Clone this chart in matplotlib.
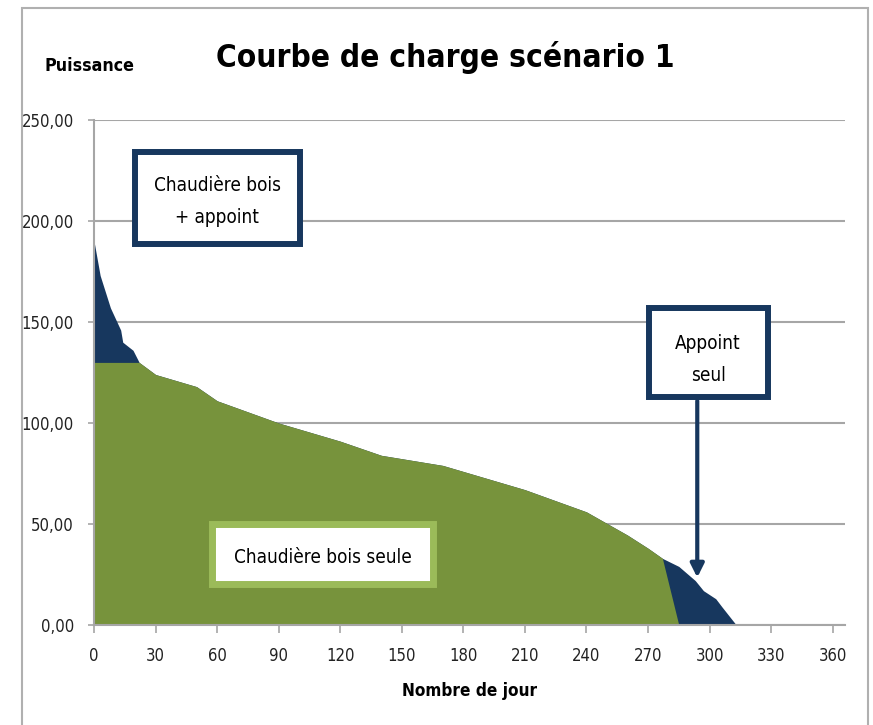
import matplotlib
matplotlib.use("Agg")
import matplotlib.pyplot as plt
from matplotlib.patches import Rectangle
from matplotlib.ticker import FuncFormatter

# Courbe de charge : puissance totale demandée (triée) et part couverte par la chaudière bois
jours_total = [0, 3, 8, 13, 14, 19, 22, 30, 50, 60, 90, 120, 140, 170, 210, 240,
               260, 270, 277, 285, 293, 297, 303, 306, 313]
puissance_total = [190, 173, 157, 146, 140, 136, 130, 124, 118, 111, 100, 91, 84, 79,
                   67, 56, 44.5, 38, 33, 29, 22, 17, 13, 9, 0]

jours_bois = [0, 22, 30, 50, 60, 90, 120, 140, 170, 210, 240, 260, 270, 277, 285]
puissance_bois = [130, 130, 124, 118, 111, 100, 91, 84, 79, 67, 56, 44.5, 38, 33, 0]

x_ticks = list(range(0, 361, 30))
y_ticks = [0, 50, 100, 150, 200, 250]

vert = '#77933c'
vert_clair = '#9bbb59'
bleu = '#17375e'
gris = '#a6a6a6'

plt.rcParams['font.family'] = ['DejaVu Sans']
plt.rcParams['font.stretch'] = 'condensed'

fig = plt.figure(figsize=(8.73, 7.25), dpi=100)
ax = fig.add_axes([94 / 873, 100 / 725, 751 / 873, 505 / 725])

# Cadre autour du graphique
fig.patches.append(Rectangle((22 / 873, -0.01), 846 / 873, 1 - 8 / 725 + 0.01,
                             transform=fig.transFigure, fill=False,
                             edgecolor='#b0b0b0', linewidth=1.5))

ax.fill_between(jours_total, puissance_total, color=bleu, linewidth=0)
ax.fill_between(jours_bois, puissance_bois, color=vert, linewidth=0)

ax.set_xlim(0, 366)
ax.set_ylim(0, 250)
ax.set_xticks(x_ticks)
ax.set_yticks(y_ticks)
ax.yaxis.set_major_formatter(FuncFormatter(lambda v, p: f'{v:.2f}'.replace('.', ',')))
ax.grid(axis='y', color=gris, linewidth=1.5)
ax.set_axisbelow(True)
for s in ['top', 'right']:
    ax.spines[s].set_visible(False)
for s in ['left', 'bottom']:
    ax.spines[s].set_color(gris)
    ax.spines[s].set_linewidth(1.5)
ax.tick_params(axis='x', length=6, color=gris, width=1.2, labelsize=12, pad=10, labelcolor='#222222')
ax.tick_params(axis='y', length=4.5, color=gris, width=1.2, labelsize=12, pad=10, labelcolor='#222222')

ax.set_xlabel('Nombre de jour', fontsize=12.3, fontweight='bold', labelpad=12)
fig.text(45 / 873, 1 - 66 / 725, 'Puissance', fontsize=12.8, fontweight='bold', va='center')
fig.text(445 / 873, 1 - 58 / 725, 'Courbe de charge scénario 1', fontsize=22.7,
         fontweight='bold', ha='center', va='center')


def cadre(x0, x1, y0, y1, couleur, lw):
    ax.add_patch(Rectangle((x0, y0), x1 - x0, y1 - y0, facecolor='white',
                           edgecolor=couleur, linewidth=lw, zorder=4, clip_on=False))


# Annotations
cadre(20, 100.3, 188.6, 234.2, bleu, 4.3)
ax.text(60.1, 209.8, 'Chaudière bois\n+ appoint', fontsize=13.6, ha='center', va='center',
        linespacing=1.85, zorder=5)
cadre(270.3, 328.3, 112.9, 156.9, bleu, 4.3)
ax.text(299.3, 131.5, 'Appoint\nseul', fontsize=13.6, ha='center', va='center',
        linespacing=1.9, zorder=5)
cadre(57.5, 165.1, 20.3, 50, vert_clair, 5)
ax.text(111.3, 33.6, 'Chaudière bois seule', fontsize=13.6, ha='center', va='center', zorder=5)
ax.annotate('', xy=(294, 23.5), xytext=(294, 111),
            arrowprops=dict(arrowstyle='-|>', color=bleu, linewidth=3, mutation_scale=20,
                            shrinkA=0, shrinkB=0), zorder=5)

fig.savefig('out.png', dpi=100)
